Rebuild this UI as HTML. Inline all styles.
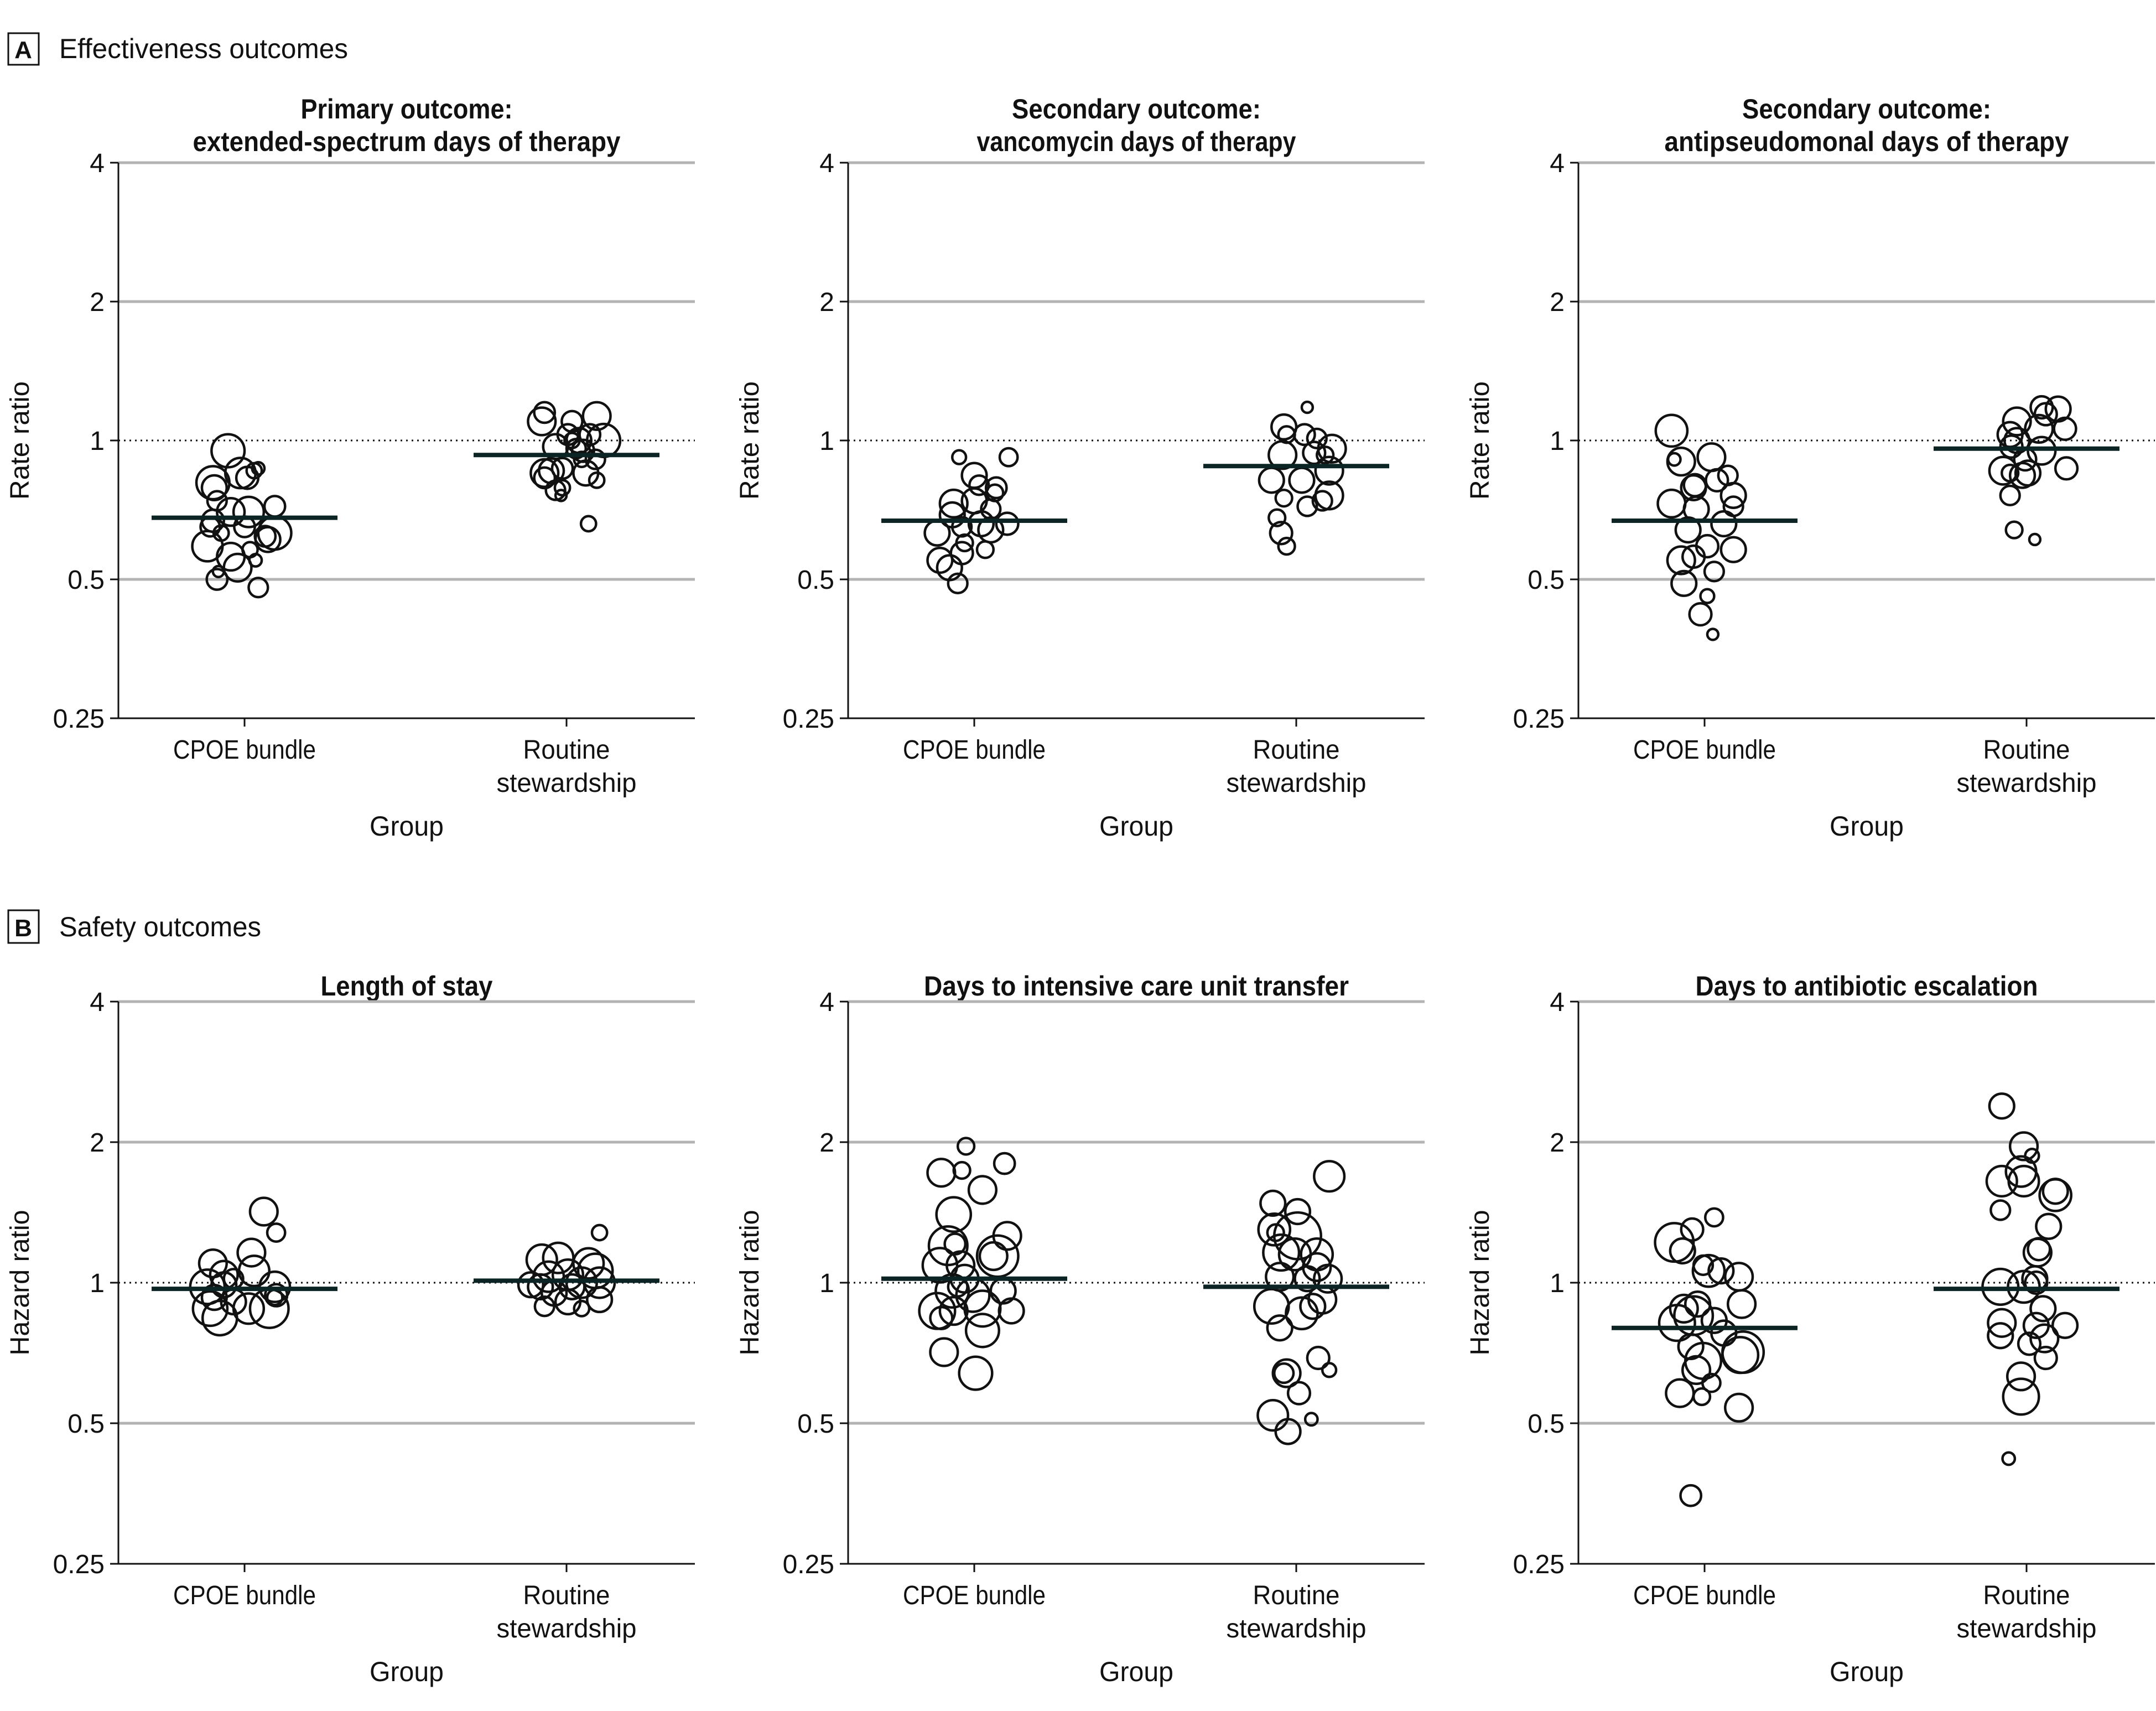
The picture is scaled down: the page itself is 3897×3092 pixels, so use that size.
<!DOCTYPE html>
<html><head><meta charset="utf-8"><style>
html,body{margin:0;padding:0;background:#fff}
svg{display:block}
text{font-family:"Liberation Sans",sans-serif;fill:#111}
</style></head><body>
<svg id="fig" width="3897" height="3092" viewBox="0 0 3897 3092" xmlns="http://www.w3.org/2000/svg">
<g>
<rect x="15" y="60" width="55" height="57" fill="none" stroke="#111" stroke-width="3"/>
<text x="42" y="105" font-size="44" font-weight="bold" text-anchor="middle">A</text>
<text x="107" y="105" font-size="50" textLength="522" lengthAdjust="spacingAndGlyphs">Effectiveness outcomes</text>
</g>
<g>
<rect x="15" y="1645" width="55" height="59" fill="none" stroke="#111" stroke-width="3"/>
<text x="42" y="1692" font-size="44" font-weight="bold" text-anchor="middle">B</text>
<text x="107" y="1692" font-size="50" textLength="365" lengthAdjust="spacingAndGlyphs">Safety outcomes</text>
</g>
</svg>
<script>
// ---- data (jitter & size in display units) ----
const categories = ["CPOE bundle", "Routine stewardship"];
const yTicks = [0.25, 0.5, 1, 2, 4];
const yTickLabels = ["0.25", "0.5", "1", "2", "4"];

const p1CpoeValues = [0.95,0.81,0.85,0.83,0.86,0.87,0.79,0.74,0.70,0.70,0.72,0.67,0.65,0.65,0.63,0.63,0.61,0.59,0.56,0.58,0.53,0.55,0.52,0.50,0.48,0.62];
const p1CpoeJitter = [-12,-23,-3,2,7,10,-22,-20,-10,3,22,-23,-25,0,-17,22,17,-27,-10,4,-5,8,-19,-20,10,15];
const p1CpoeSize = [12,12,11,8,5.5,4.5,9,7,10,11,7.5,8,7,7.5,5.5,12,9,11,10,5.5,10,4.5,4,7.5,7,7.5];
const p1RoutineValues = [1.10,1.15,1.10,1.13,1.00,0.97,1.03,1.00,1.03,0.96,0.95,0.91,0.91,0.85,0.86,0.83,0.87,0.85,0.78,0.79,0.82,0.76,0.66,1.00];
const p1RoutineJitter = [-18,-16,4,22,27,-8,1,9,17,7,12,21,11,-16,-11,-16,-3,14,-8,-3,22,-4,16,4];
const p1RoutineSize = [10,7.5,7.5,10,12,9,7.5,9,7.5,7,8,7,5.5,10,9,7.5,7.5,9,7,5.5,5.5,4,5.5,5.5];
const p1Means = [0.68, 0.93];

const p2CpoeValues = [0.92,0.92,0.84,0.80,0.79,0.77,0.73,0.74,0.71,0.69,0.65,0.66,0.64,0.66,0.63,0.60,0.58,0.57,0.55,0.53,0.49];
const p2CpoeJitter = [-11,25,0,3.5,16,15,-15,0,12,-16,-9,5,12,24,-27,-7,8,-9,-25,-18,-12];
const p2CpoeSize = [5,6.5,9,7,7.5,6,10,9,7,9,7,9,9,8,9,6,6,8,9,9,7];
const p2RoutineValues = [1.18,1.07,1.03,1.03,1.01,0.96,0.93,0.94,0.93,0.86,0.82,0.82,0.76,0.75,0.72,0.74,0.68,0.63,0.59];
const p2RoutineJitter = [8,-9,6,-7,15,26,-10,13,21,24,-18,4,24,-9,8,19,-14,-11,-7];
const p2RoutineSize = [4,9,7.5,6,7,10,10,8,6,10,9,9,10,6,7,7,6,8,6];
const p2Means = [0.67, 0.88];

const p3CpoeValues = [1.05,0.90,0.91,0.92,0.84,0.82,0.80,0.79,0.76,0.73,0.71,0.72,0.66,0.64,0.58,0.59,0.55,0.56,0.52,0.49,0.46,0.42,0.38];
const p3CpoeJitter = [-24,-17,-22,5,17,9,-7,-8,21,-24,-6,21,14,-12,21,2,-17,-8,7,-15,2,-3,6];
const p3CpoeSize = [11.5,10,4.5,10,7,8,8,9,9,10,9,7,9,9,9,8,10,8,7,9,5,8,4];
const p3RoutineValues = [1.18,1.17,1.14,1.10,1.06,1.06,1.03,1.00,0.97,0.95,0.91,0.86,0.85,0.87,0.85,0.84,0.76,0.64,0.61];
const p3RoutineJitter = [11,23,14,-7,28,9,-12,-7,-11,11,-1,-17,1,29,-12,-3,-12,-9,6];
const p3RoutineSize = [8,9,8,10,8,10,9,9,8,10,8,10,9,8,6,9,7,6,4];
const p3Means = [0.67, 0.96];

const p4CpoeValues = [1.42,1.28,1.16,1.10,1.04,1.02,0.98,0.99,1.06,0.98,0.94,0.93,0.88,0.84,0.88,0.88,0.91,0.93];
const p4CpoeJitter = [14,23,5,-23,-15,-8,-27,-15,7,22,23,22,-25,-18,3,18,-8,-22];
const p4CpoeSize = [10,6.5,10,10,10,7,12.5,9,11,11,8,5.5,12.5,12.5,11,14,9,9];
const p4RoutineValues = [1.28,1.12,1.13,1.10,1.06,1.03,1.04,0.98,0.95,1.00,1.00,0.98,0.89,0.91,0.92,0.88,0.99];
const p4RoutineJitter = [24,-18,-6,16,21,-13,1,-19,-9,11,24,4,-16,1,24,11,-26];
const p4RoutineSize = [5.5,11,11,11,12.5,11,11,9,9,11,11,9,7,9,9,5.5,9];
const p4Means = [0.97, 1.01];

const p5CpoeValues = [1.96,1.80,1.72,1.74,1.58,1.40,1.26,1.20,1.21,1.14,1.14,1.09,1.09,1.02,0.98,0.96,0.94,0.96,0.87,0.87,0.88,0.87,0.84,0.79,0.71,0.64];
const p5CpoeJitter = [-6,22,-24,-9,6,-15,24,-19,-14,17,14,-25,-10,-7,-12,-16,-1,21,-27,-15,6,27,-24,6,-22,1];
const p5CpoeSize = [6,7.5,10,6,10,12.5,10,14,7.5,15,10,12.5,10,10,7,12,12,9,13,10,13,9,8,12,10,12];
const p5RoutineValues = [1.69,1.48,1.42,1.30,1.28,1.26,1.16,1.15,1.15,1.08,1.03,1.02,1.02,0.89,0.92,0.89,0.86,0.80,0.69,0.65,0.64,0.64,0.58,0.52,0.48,0.51];
const p5RoutineJitter = [24,-17,1,-16,-15,1,-11,-1,15,15,-12,8,23,-18,19,12,4,-12,16,24,-7,-9,2,-17,-6,11];
const p5RoutineSize = [11,9,9,11.5,6,17,13,11.5,11.5,10,10,9,10,12.5,10,9,11.5,9,8,5,10,7,8,11,9,4.5];
const p5Means = [1.02, 0.98];

const p6CpoeValues = [1.38,1.30,1.22,1.17,1.06,1.09,1.06,1.03,0.90,0.88,0.90,0.85,0.82,0.83,0.78,0.73,0.68,0.71,0.70,0.65,0.61,0.58,0.57,0.54,0.35];
const p6CpoeJitter = [7,-9,-22,-16,3,-1,12,25,27,-15,-5,-8,-20,7,14,-10,-1,28,26,-6,5,-18,-2,25,-10];
const p6CpoeSize = [6.5,8,14,9,11.5,7,9,10,10,10,9,14,13,9,9,9,13,15,13,10,6.5,10,6,10,7.5];
const p6RoutineValues = [2.39,1.96,1.87,1.65,1.73,1.65,1.54,1.57,1.43,1.32,1.16,1.18,1.02,0.98,0.98,1.00,0.88,0.82,0.77,0.81,0.81,0.76,0.74,0.69,0.63,0.57,0.42];
const p6RoutineJitter = [-18,-2,4,-18,-4,-2,21,21,-19,16,8,9,6,-19,-2,7,12,-18,-19,7,28,13,2,14,-4,-4,-13];
const p6RoutineSize = [9,10,5,11,11,11,11.5,9,7,9,10,8,9,13,11.5,8,9,10,9,9,9,10,8,8,10,13,4.5];
const p6Means = [0.80, 0.97];

const panelTitles = [
  ["Primary outcome:", "extended-spectrum days of therapy"],
  ["Secondary outcome:", "vancomycin days of therapy"],
  ["Secondary outcome:", "antipseudomonal days of therapy"],
  ["Length of stay"],
  ["Days to intensive care unit transfer"],
  ["Days to antibiotic escalation"]
];
const panelTitleWidths = [[383,773],[450,577],[450,731],[311],[768],[619]];

const panels = [
  {cpoe:[p1CpoeValues,p1CpoeJitter,p1CpoeSize], routine:[p1RoutineValues,p1RoutineJitter,p1RoutineSize], means:p1Means},
  {cpoe:[p2CpoeValues,p2CpoeJitter,p2CpoeSize], routine:[p2RoutineValues,p2RoutineJitter,p2RoutineSize], means:p2Means},
  {cpoe:[p3CpoeValues,p3CpoeJitter,p3CpoeSize], routine:[p3RoutineValues,p3RoutineJitter,p3RoutineSize], means:p3Means},
  {cpoe:[p4CpoeValues,p4CpoeJitter,p4CpoeSize], routine:[p4RoutineValues,p4RoutineJitter,p4RoutineSize], means:p4Means},
  {cpoe:[p5CpoeValues,p5CpoeJitter,p5CpoeSize], routine:[p5RoutineValues,p5RoutineJitter,p5RoutineSize], means:p5Means},
  {cpoe:[p6CpoeValues,p6CpoeJitter,p6CpoeSize], routine:[p6RoutineValues,p6RoutineJitter,p6RoutineSize], means:p6Means}
];

// ---- layout ----
const NS = "http://www.w3.org/2000/svg";
const svg = document.getElementById("fig");
const S = 2.485;
const colX = [214, 1533, 2853];
const plotW = 1042;
const rowOne = [796, 2318];   // y of value 1
const dbl = [251, 254];       // px per doubling
const catOff = [228, 810];
const meanHalf = 168;

function mk(tag, attrs, parent){
  const e = document.createElementNS(NS, tag);
  for (const k in attrs) e.setAttribute(k, attrs[k]);
  parent.appendChild(e);
  return e;
}

panels.forEach((p, i) => {
  const row = i < 3 ? 0 : 1;
  const x0 = colX[i % 3];
  const x1 = x0 + plotW;
  const yScale = v => rowOne[row] - Math.log2(v) * dbl[row];
  const xScale = c => x0 + catOff[c];
  const g = mk("g", {}, svg);
  
  

  const titles = panelTitles[i];
  const cx = (x0 + x1) / 2;
  const baseY = row === 0 ? [214, 273] : [1799];
  titles.forEach((t, k) => {
    const te = mk("text", {x: cx, y: baseY[k], "font-size": 50, "font-weight": "bold", "text-anchor": "middle", textLength: panelTitleWidths[i][k], lengthAdjust: "spacingAndGlyphs"}, g);
    te.textContent = t;
    
    
  });

  yTicks.forEach((v, k) => {
    const y = yScale(v);
    if (v === 1) {
      const l = mk("line", {x1: x0, x2: x1, y1: y, y2: y, stroke: "#111", "stroke-width": 3, "stroke-dasharray": "3 7"}, g);
      
      
    } else if (v !== 0.25) {
      const l = mk("line", {x1: x0, x2: x1, y1: y, y2: y, stroke: "#b3b3b3", "stroke-width": 5}, g);
      
      
    }
    const tk = mk("line", {x1: x0 - 15, x2: x0, y1: y, y2: y, stroke: "#111", "stroke-width": 3}, g);
    
    
    const tl = mk("text", {x: x0 - 25, y: y + 17, "font-size": 48, "text-anchor": "end"}, g);
    tl.textContent = yTickLabels[k];
    
    
  });
  const yBot = yScale(0.25), yTop = yScale(4);
  const ax = mk("line", {x1: x0, x2: x0, y1: yTop, y2: yBot + 1.5, stroke: "#111", "stroke-width": 3}, g);
  
  
  const bx = mk("line", {x1: x0 - 1.5, x2: x1, y1: yBot, y2: yBot, stroke: "#111", "stroke-width": 3}, g);
  
  

  const ylab = row === 0 ? "Rate ratio" : "Hazard ratio";
  const yc = yScale(1);
  const yt = mk("text", {x: 0, y: 0, "font-size": 48, "text-anchor": "middle", transform: `translate(${x0 - 162},${yc}) rotate(-90)`, textLength: row === 0 ? 214 : 263, lengthAdjust: "spacingAndGlyphs"}, g);
  yt.textContent = ylab;
  
  

  categories.forEach((c, k) => {
    const x = xScale(k);
    const tk = mk("line", {x1: x, x2: x, y1: yBot, y2: yBot + 15, stroke: "#111", "stroke-width": 3}, g);
    
    
    const lb = yBot + 73;
    if (k === 0) {
      const t = mk("text", {x: x, y: lb, "font-size": 48, "text-anchor": "middle", textLength: 258, lengthAdjust: "spacingAndGlyphs"}, g);
      t.textContent = "CPOE bundle";
      
      
    } else {
      const t1 = mk("text", {x: x, y: lb, "font-size": 48, "text-anchor": "middle", textLength: 157, lengthAdjust: "spacingAndGlyphs"}, g);
      t1.textContent = "Routine";
      
      
      const t2 = mk("text", {x: x, y: lb + 60, "font-size": 48, "text-anchor": "middle", textLength: 253, lengthAdjust: "spacingAndGlyphs"}, g);
      t2.textContent = "stewardship";
      
      
    }
  });
  const gx = mk("text", {x: cx, y: yBot + 212, "font-size": 50, "text-anchor": "middle", textLength: 134, lengthAdjust: "spacingAndGlyphs"}, g);
  gx.textContent = "Group";
  
  

  [p.cpoe, p.routine].forEach((series, k) => {
    const [vals, jit, size] = series;
    vals.forEach((v, j) => {
      const c = mk("circle", {cx: xScale(k) + jit[j] * S, cy: yScale(v), r: size[j] * S, fill: "none", stroke: "#111", "stroke-width": 4.5}, g);
      
      
    });
  });
  p.means.forEach((m, k) => {
    const y = yScale(m);
    const l = mk("line", {x1: xScale(k) - meanHalf, x2: xScale(k) + meanHalf, y1: y, y2: y, stroke: "#0d2424", "stroke-width": 8}, g);
    
    
  });
});
</script>
</body></html>
